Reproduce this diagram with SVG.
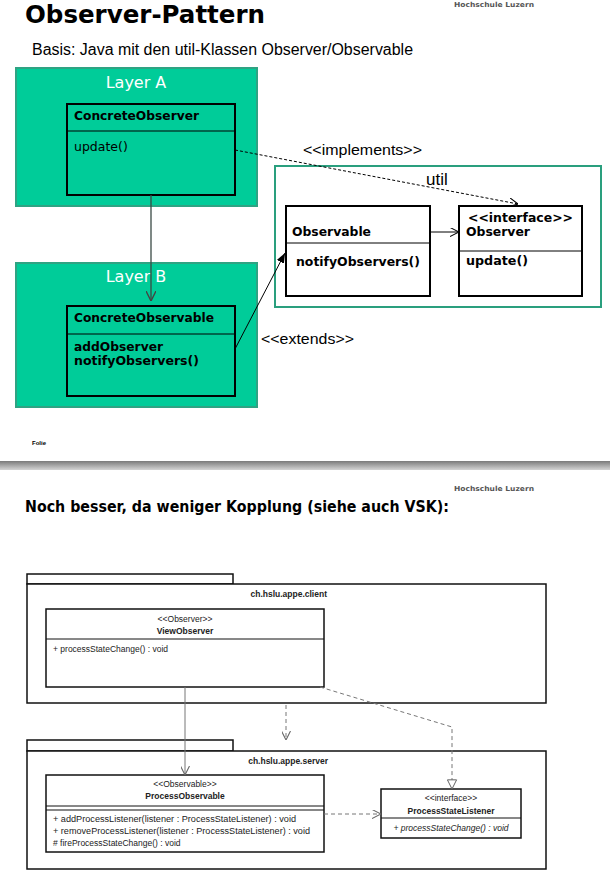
<svg xmlns="http://www.w3.org/2000/svg" width="610" height="884" viewBox="0 0 610 884">
<style>
.layer{fill:#00CC99;stroke:#2FA383;stroke-width:2}
.cls{fill:none;stroke:#000;stroke-width:2}
.clsw{fill:#fff;stroke:#000;stroke-width:2}
.v{font-family:"DejaVu Sans",Verdana,sans-serif}
.a{font-family:"Liberation Sans",Arial,sans-serif}
.b{font-weight:bold}
.cn{font-family:"DejaVu Sans",Verdana,sans-serif;font-size:12.5px;fill:#000}
.lt{font-family:"DejaVu Sans",Verdana,sans-serif;font-size:16px;fill:#fff}
.pkg{fill:#fff;stroke:#111;stroke-width:1.5}
.ubox{fill:#fff;stroke:#111;stroke-width:1.5}
.sm{font-family:"Liberation Sans",Arial,sans-serif;font-size:8.5px;fill:#222}
.con{fill:none;stroke:#000;stroke-width:1}
.gcon{fill:none;stroke:#777;stroke-width:1}
.dash{stroke-dasharray:3 2}
.gdash{stroke-dasharray:4 3}
</style>
<defs>
<marker id="open" viewBox="0 0 10 10" refX="10" refY="5" markerWidth="9" markerHeight="9" markerUnits="userSpaceOnUse" orient="auto">
<path d="M0,0 L10,5 L0,10" fill="none" stroke="#000" stroke-width="1.2"/>
</marker>
<marker id="opendk" viewBox="0 0 10 10" refX="10" refY="5" markerWidth="10" markerHeight="10" markerUnits="userSpaceOnUse" orient="auto">
<path d="M0,0 L10,5 L0,10" fill="none" stroke="#444" stroke-width="1.4"/>
</marker>
<marker id="opengr" viewBox="0 0 10 10" refX="10" refY="5" markerWidth="9" markerHeight="9" markerUnits="userSpaceOnUse" orient="auto">
<path d="M0,0 L10,5 L0,10" fill="none" stroke="#666" stroke-width="1.2"/>
</marker>
<marker id="filled" viewBox="0 0 10 10" refX="10" refY="5" markerWidth="10" markerHeight="10" markerUnits="userSpaceOnUse" orient="auto">
<path d="M0,1 L10,5 L0,9 Z" fill="#000"/>
</marker>
<marker id="hollow" viewBox="0 0 12 12" refX="11" refY="6" markerWidth="11" markerHeight="11" markerUnits="userSpaceOnUse" orient="auto">
<path d="M1,1 L11,6 L1,11 Z" fill="#fff" stroke="#555" stroke-width="1"/>
</marker>
<linearGradient id="band" x1="0" y1="0" x2="0" y2="1">
<stop offset="0" stop-color="#7a7a7a"/>
<stop offset="0.5" stop-color="#a8a8a8"/>
<stop offset="1" stop-color="#d4d4d4"/>
</linearGradient>
</defs>

<!-- Slide 1 header -->
<text x="25" y="23" class="v b" font-size="25" textLength="240" lengthAdjust="spacingAndGlyphs" fill="#000">Observer-Pattern</text>
<text x="454" y="7" class="v b" font-size="7" textLength="80" lengthAdjust="spacingAndGlyphs" fill="#555">Hochschule Luzern</text>
<text x="32" y="55" class="a" font-size="16" textLength="381" lengthAdjust="spacingAndGlyphs" fill="#000">Basis: Java mit den util-Klassen Observer/Observable</text>

<g id="layerA">
<rect class="layer" x="16" y="68" width="241" height="138"/>
<text x="136" y="88" class="lt" text-anchor="middle">Layer A</text>
</g>
<g id="layerB">
<rect class="layer" x="16" y="263" width="241" height="144"/>
<text x="136" y="282" class="lt" text-anchor="middle">Layer B</text>
</g>

<g id="util">
<rect x="275" y="166" width="326" height="141" fill="#fff" stroke="#2A9F7E" stroke-width="2"/>
<text x="426" y="185" class="a" font-size="17" fill="#000">util</text>
</g>

<g id="ConcreteObserver">
<rect class="cls" x="67" y="104" width="168" height="91"/>
<line x1="67" y1="131" x2="235" y2="131" stroke="#000" stroke-width="1"/>
<text x="74" y="120" class="cn b" textLength="125" lengthAdjust="spacingAndGlyphs">ConcreteObserver</text>
<text x="74" y="151" class="cn">update()</text>
</g>

<g id="ConcreteObservable">
<rect class="cls" x="67" y="306" width="168" height="90"/>
<line x1="67" y1="334" x2="235" y2="334" stroke="#000" stroke-width="1"/>
<text x="74" y="322" class="cn b" textLength="140" lengthAdjust="spacingAndGlyphs">ConcreteObservable</text>
<text x="74" y="351" class="cn b" textLength="89" lengthAdjust="spacingAndGlyphs">addObserver</text>
<text x="74" y="365" class="cn b" textLength="125" lengthAdjust="spacingAndGlyphs">notifyObservers()</text>
</g>

<g id="Observable">
<rect class="clsw" x="286" y="206" width="144" height="90"/>
<line x1="286" y1="243" x2="430" y2="243" stroke="#000" stroke-width="1"/>
<text x="292" y="236" class="cn b" textLength="79" lengthAdjust="spacingAndGlyphs">Observable</text>
<text x="296" y="266" class="cn b" textLength="124" lengthAdjust="spacingAndGlyphs">notifyObservers()</text>
</g>

<g id="Observer">
<rect class="clsw" x="459" y="206" width="123" height="90"/>
<line x1="459" y1="251" x2="582" y2="251" stroke="#000" stroke-width="1"/>
<text x="468" y="222" class="cn b" textLength="105" lengthAdjust="spacingAndGlyphs">&lt;&lt;interface&gt;&gt;</text>
<text x="466" y="236" class="cn b" textLength="64" lengthAdjust="spacingAndGlyphs">Observer</text>
<text x="466" y="265" class="cn b" textLength="62" lengthAdjust="spacingAndGlyphs">update()</text>
</g>

<g id="connectors-top">
<line x1="151" y1="195" x2="151" y2="301" stroke="#3a4a44" stroke-width="1.3" marker-end="url(#opendk)"/>
<line class="con dash" x1="235" y1="150" x2="518" y2="204" marker-end="url(#open)"/>
<line class="con" x1="430" y1="232" x2="459" y2="232" marker-end="url(#open)"/>
<line class="con" x1="235" y1="349" x2="285" y2="253" marker-end="url(#filled)"/>
<text x="303" y="155" class="a" font-size="15" textLength="119" lengthAdjust="spacingAndGlyphs" fill="#000">&lt;&lt;implements&gt;&gt;</text>
<text x="261" y="344" class="a" font-size="15" textLength="93" lengthAdjust="spacingAndGlyphs" fill="#000">&lt;&lt;extends&gt;&gt;</text>
</g>

<text x="32" y="445" class="a b" font-size="6" fill="#000">Folie</text>

<!-- Separator -->
<rect x="0" y="461" width="610" height="9" fill="url(#band)"/>

<!-- Slide 2 header -->
<text x="454" y="491" class="v b" font-size="7" textLength="80" lengthAdjust="spacingAndGlyphs" fill="#555">Hochschule Luzern</text>
<text x="25" y="512" class="v b" font-size="15" textLength="424" lengthAdjust="spacingAndGlyphs" fill="#000">Noch besser, da weniger Kopplung (siehe auch VSK):</text>

<g id="pkg-client">
<rect class="pkg" x="27" y="574" width="206" height="10"/>
<rect class="pkg" x="27" y="584" width="519" height="119"/>
<text x="327" y="597" class="sm b" text-anchor="end">ch.hslu.appe.client</text>
</g>

<g id="pkg-server">
<rect class="pkg" x="27" y="740" width="206" height="11"/>
<rect class="pkg" x="27" y="751" width="519" height="118"/>
<text x="328" y="764" class="sm b" text-anchor="end">ch.hslu.appe.server</text>
</g>

<g id="ViewObserver">
<rect class="ubox" x="46" y="609" width="278" height="78"/>
<line x1="46" y1="639" x2="324" y2="639" stroke="#111" stroke-width="1"/>
<text x="185" y="622" class="sm" font-size="7.5" text-anchor="middle">&lt;&lt;Observer&gt;&gt;</text>
<text x="185" y="634" class="sm b" font-size="8.5" text-anchor="middle">ViewObserver</text>
<text x="53" y="652" class="sm">+ processStateChange() : void</text>
</g>

<g id="ProcessObservable">
<rect class="ubox" x="46" y="775" width="278" height="77"/>
<line x1="46" y1="806" x2="324" y2="806" stroke="#111" stroke-width="1"/>
<line x1="46" y1="810" x2="324" y2="810" stroke="#111" stroke-width="1"/>
<text x="185" y="787" class="sm" font-size="7.5" text-anchor="middle">&lt;&lt;Observable&gt;&gt;</text>
<text x="185" y="799" class="sm b" font-size="8.5" text-anchor="middle">ProcessObservable</text>
<text x="53" y="822" class="sm" textLength="243" lengthAdjust="spacingAndGlyphs">+ addProcessListener(listener : ProcessStateListener) : void</text>
<text x="53" y="834" class="sm" textLength="257" lengthAdjust="spacingAndGlyphs">+ removeProcessListener(listener : ProcessStateListener) : void</text>
<text x="53" y="846" class="sm"># fireProcessStateChange() : void</text>
</g>

<g id="ProcessStateListener">
<rect class="ubox" x="381" y="789" width="140" height="49"/>
<line x1="381" y1="818" x2="521" y2="818" stroke="#111" stroke-width="1"/>
<text x="451" y="801" class="sm" font-size="7.5" text-anchor="middle">&lt;&lt;interface&gt;&gt;</text>
<text x="451" y="814" class="sm b" font-size="8.5" text-anchor="middle">ProcessStateListener</text>
<text x="451" y="831" class="sm" font-size="8" font-style="italic" text-anchor="middle">+ processStateChange() : void</text>
</g>

<g id="connectors-bottom">
<line class="gcon" x1="185" y1="687" x2="185" y2="775" marker-end="url(#opengr)"/>
<line class="gcon gdash" x1="286" y1="705" x2="286" y2="740" marker-end="url(#opengr)"/>
<polyline class="gcon gdash" points="320,687 452,727 452,789" marker-end="url(#hollow)"/>
<line class="gcon gdash" x1="324" y1="814" x2="381" y2="814" marker-end="url(#opengr)"/>
</g>
</svg>
